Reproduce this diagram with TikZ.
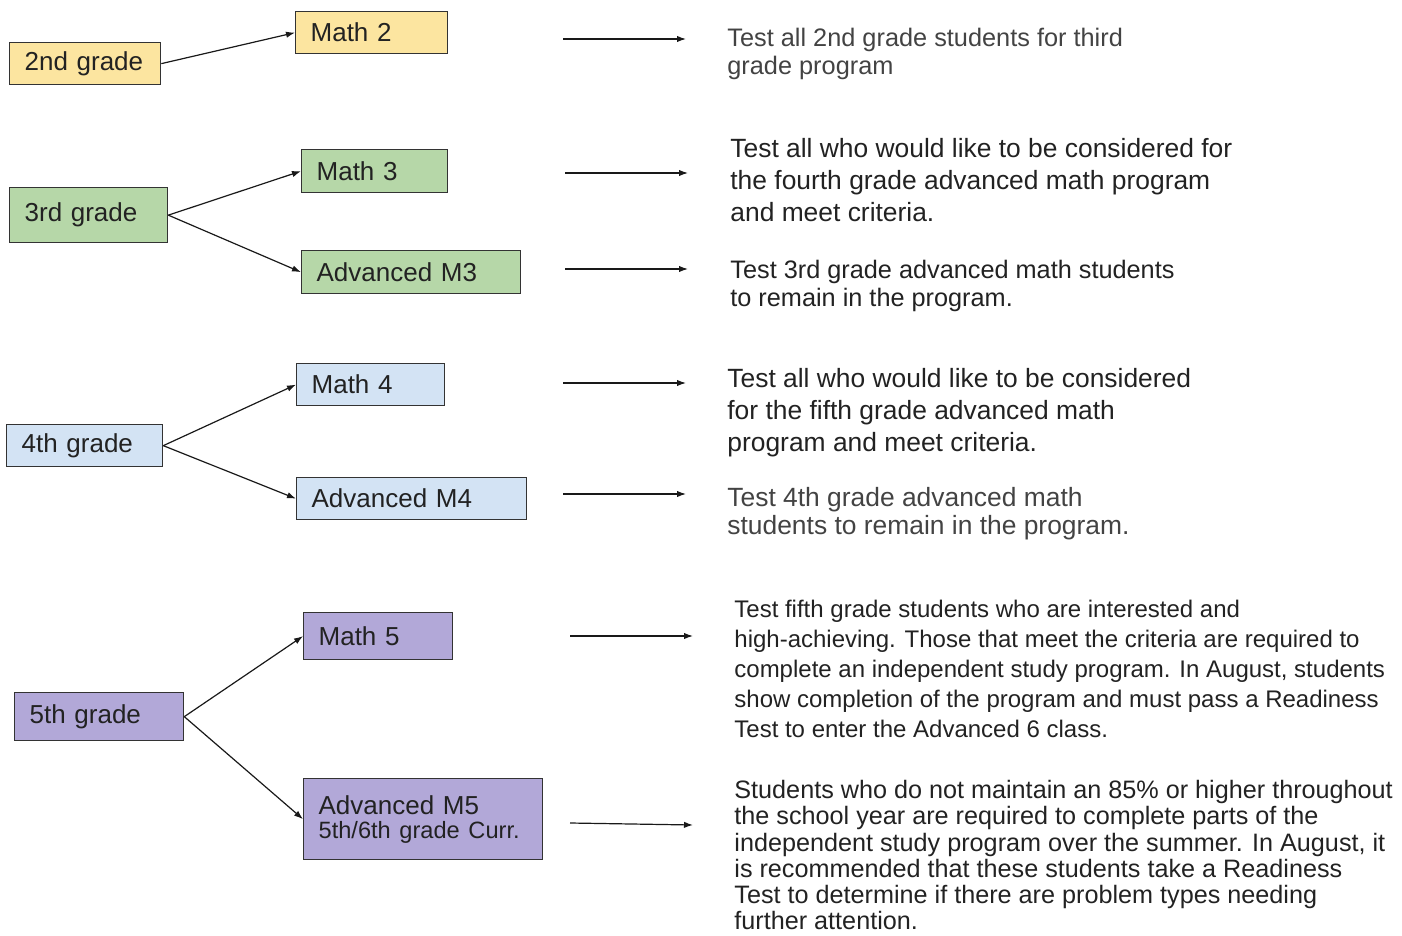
\documentclass[tikz,border=0pt]{standalone}
\usepackage{fontspec}
\setmainfont{Liberation Sans}
\usetikzlibrary{arrows.meta}
\definecolor{yel}{HTML}{FCE5A0}
\definecolor{grn}{HTML}{B6D7A8}
\definecolor{blu}{HTML}{D3E3F4}
\definecolor{pur}{HTML}{B2A8D8}
\definecolor{edge}{HTML}{333333}
\definecolor{txt}{HTML}{222222}
\tikzset{
  box/.style={draw=edge, line width=0.65pt, anchor=north west, inner xsep=7.5pt, inner ysep=0pt, align=left, text=txt, font=\fontsize{13}{13}\selectfont},
  conn/.style={draw=black!90, line width=0.6pt, -{Latex[length=4.5pt,width=3.2pt]}},
  desc/.style={anchor=north west, inner sep=0pt, align=left, text=txt}
}
\begin{document}
\begin{tikzpicture}[x=0.5pt,y=-0.5pt]
\useasboundingbox (0,0) rectangle (1402,936);
% 2nd grade
\node[box, fill=yel, text width=60.5pt, minimum height=21pt] (g2) at (9,42) {2nd grade};
\node[box, fill=yel, text width=61pt, minimum height=21pt] (m2) at (295,11) {Math 2};
\draw[conn] (g2.east) -- (m2.west);
% 3rd grade
\node[box, fill=grn, text width=64pt, minimum height=27.5pt] (g3) at (9,187) {3rd grade};
\node[box, fill=grn, text width=58pt, minimum height=21.5pt] (m3) at (301,149) {Math 3};
\node[box, fill=grn, text width=94.5pt, minimum height=21.5pt] (a3) at (301,250) {Advanced M3};
\draw[conn] (g3.east) -- (m3.west);
\draw[conn] (g3.east) -- (a3.west);
% 4th grade
\node[box, fill=blu, text width=63pt, minimum height=21pt] (g4) at (6,424) {4th grade};
\node[box, fill=blu, text width=59pt, minimum height=21pt] (m4) at (296,363) {Math 4};
\node[box, fill=blu, text width=100pt, minimum height=21pt] (a4) at (296,477) {Advanced M4};
\draw[conn] (g4.east) -- (m4.west);
\draw[conn] (g4.east) -- (a4.west);
% 5th grade
\node[box, fill=pur, text width=69.5pt, minimum height=24pt] (g5) at (14,692) {5th grade};
\node[box, fill=pur, text width=59.5pt, minimum height=23.5pt] (m5) at (303,612) {Math 5};
\node[box, fill=pur, text width=104.5pt, minimum height=40.5pt] (a5) at (303,778) {Advanced M5\\[-1pt]{\fontsize{11.8}{12}\selectfont 5th/6th grade Curr.}};
\draw[conn] (g5.east) -- (m5.west);
\draw[conn] (g5.east) -- (a5.west);
% right-hand arrows
\coordinate (s1) at (563,39);  \coordinate (e1) at (686,39);
\coordinate (s2) at (565,173); \coordinate (e2) at (688,173);
\coordinate (s3) at (565,269); \coordinate (e3) at (688,269);
\coordinate (s4) at (563,383); \coordinate (e4) at (686,383);
\coordinate (s5) at (563,494); \coordinate (e5) at (686,494);
\coordinate (s6) at (570,636); \coordinate (e6) at (693,636);
\coordinate (s7) at (570,823); \coordinate (e7) at (693,825);
\foreach \i in {1,...,7} {\draw[conn] (s\i) -- (e\i);}
% descriptions
\node[desc, text=txt!85, font=\fontsize{12.66}{14}\selectfont] (t1) at (727,28) {Test all 2nd grade students for third\\grade program};
\node[desc, font=\fontsize{13.2}{16}\selectfont] (t2) at (730,138) {Test all who would like to be considered for\\the fourth grade advanced math program\\and meet criteria.};
\node[desc, font=\fontsize{12.64}{14}\selectfont] (t3) at (730,260) {Test 3rd grade advanced math students\\to remain in the program.};
\node[desc, font=\fontsize{13.2}{16}\selectfont] (t4) at (727,368) {Test all who would like to be considered\\for the fifth grade advanced math\\program and meet criteria.};
\node[desc, text=txt!85, font=\fontsize{13.2}{14}\selectfont] (t5) at (727,487) {Test 4th grade advanced math\\students to remain in the program.};
\node[desc, font=\fontsize{12}{15}\selectfont] (t6) at (734,600) {Test fifth grade students who are interested and\\high-achieving. Those that meet the criteria are required to\\complete an independent study program. In August, students\\show completion of the program and must pass a Readiness\\Test to enter the Advanced 6 class.};
\node[desc, font=\fontsize{12.6}{13.1}\selectfont] (t7) at (734,780) {Students who do not maintain an 85\% or higher throughout\\the school year are required to complete parts of the\\independent study program over the summer. In August, it\\is recommended that these students take a Readiness\\Test to determine if there are problem types needing\\further attention.};
\end{tikzpicture}
\end{document}
